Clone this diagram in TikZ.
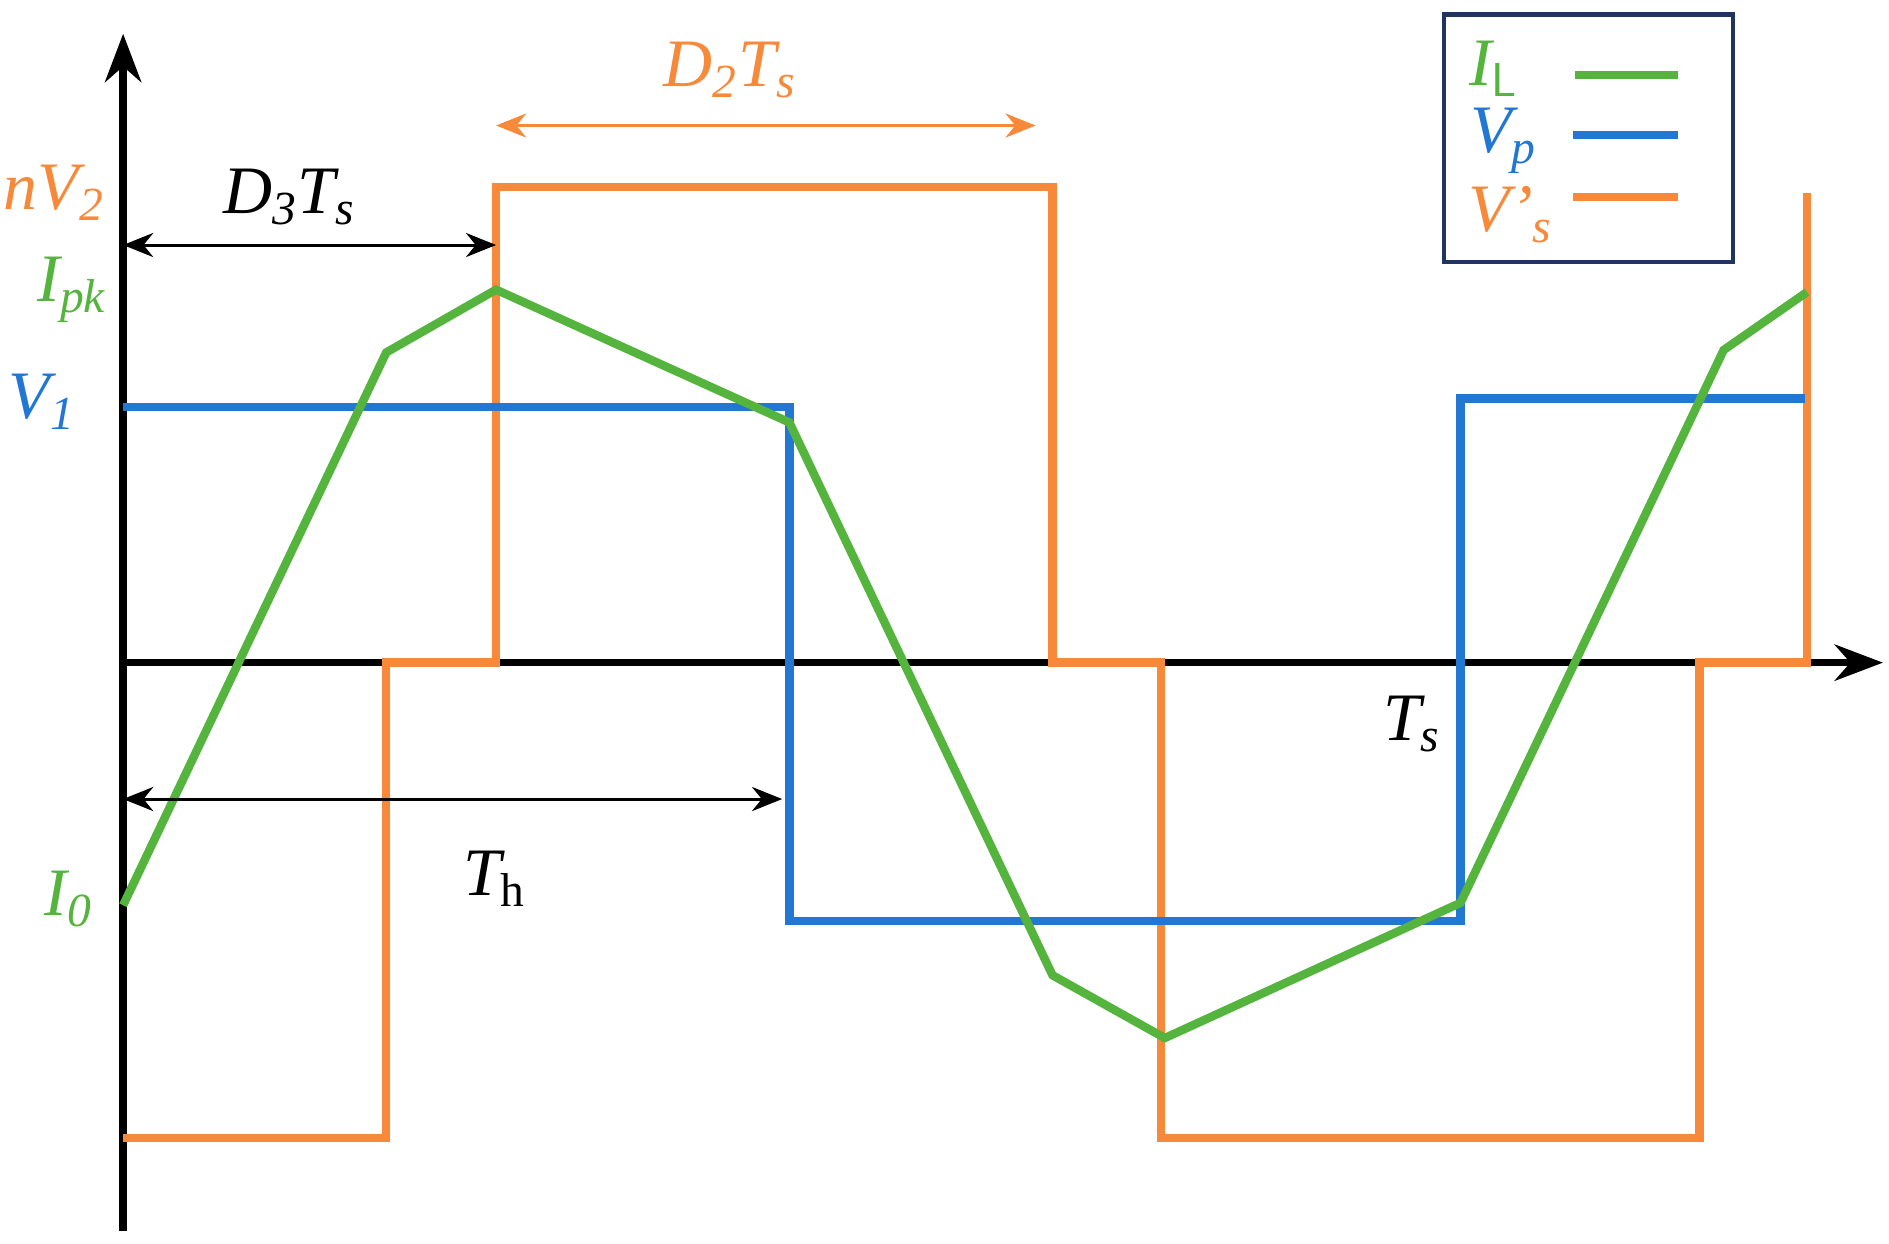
\documentclass[tikz,border=0pt]{standalone}
\usepackage{fontspec}
\setmainfont{Liberation Serif}
\usetikzlibrary{arrows.meta}
\definecolor{org}{HTML}{F7893A}
\definecolor{blu}{HTML}{2277D3}
\definecolor{grn}{HTML}{55B43D}
\definecolor{nav}{HTML}{1F3560}
\newcommand{\sbs}[1]{\textsubscript{\textit{#1}}}
\begin{document}
\begin{tikzpicture}[x=0.1mm,y=-0.1mm,
  wave/.style={line width=0.7mm,line join=miter},
  lbl/.style={font=\fontsize{16}{19}\selectfont\itshape,inner sep=0pt},
  dim/.style={line width=0.25mm,{Stealth[length=2.5mm,width=2mm]}-{Stealth[length=2.5mm,width=2mm]}}]
\useasboundingbox (0,0) rectangle (1565,1030);
% axes
\coordinate (ob) at (102,1020); \coordinate (ot) at (102,28);
\coordinate (xl) at (102,549); \coordinate (xr) at (1560,549);
\draw[line width=0.6mm,-{Stealth[length=4mm,width=3mm]}] (ob) -- (ot);
\draw[line width=0.6mm,-{Stealth[length=4mm,width=3mm]}] (xl) -- (xr);
% orange
\draw[wave,org] (102,943) -- (320,943) -- (320,549) -- (411,549) -- (411,155) -- (872,155) -- (872,549) -- (962,549) -- (962,943) -- (1408,943) -- (1408,549) -- (1497,549) -- (1497,160);
% blue
\draw[wave,blu] (102,337) -- (654,337) -- (654,763) -- (1210,763) -- (1210,330) -- (1495,330);
% green
\draw[wave,grn] (102,750) -- (320,292) -- (411,240) -- (654,350) -- (872,808) -- (965,860) -- (1210,748) -- (1428,290) -- (1497,242);
% dimension arrows
\coordinate (d3a) at (102,203); \coordinate (d3b) at (411,203);
\draw[dim] (d3a) -- (d3b);
\node[lbl] (d3) at (240,163) {D\textsubscript{3}T\sbs{s}};
\coordinate (d2a) at (411,104); \coordinate (d2b) at (858,104);
\draw[dim,org] (d2a) -- (d2b);
\node[lbl,org] (d2) at (605,58) {D\textsubscript{2}T\sbs{s}};
\coordinate (tha) at (102,662); \coordinate (thb) at (648,662);
\draw[dim] (tha) -- (thb);
\node[lbl] (th) at (410,728) {T\textsubscript{\upshape h}};
\node[lbl] (ts) at (1170,600) {T\sbs{s}};
% axis labels
\node[lbl,org] (nv2) at (45,160) {nV\textsubscript{2}};
\node[lbl,grn] (ipk) at (60,240) {I\sbs{pk}};
\node[lbl,blu] (v1) at (35,333) {V\textsubscript{1}};
\node[lbl,grn] (i0) at (57,745) {I\textsubscript{0}};
% legend
\draw[nav,line width=0.35mm] (1196,12) rectangle (1436,217);
\node[lbl,grn] (lil) at (1238,57) {I\textsubscript{\upshape\sffamily L}};
\node[lbl,blu] (lvp) at (1246,117) {V\sbs{p}};
\node[lbl,org] (lvs) at (1252,178) {V’\sbs{s}};
\draw[wave,grn] (1305,62) -- (1390,62);
\draw[wave,blu] (1303,112) -- (1390,112);
\draw[wave,org] (1303,163) -- (1390,163);
\end{tikzpicture}
\end{document}
